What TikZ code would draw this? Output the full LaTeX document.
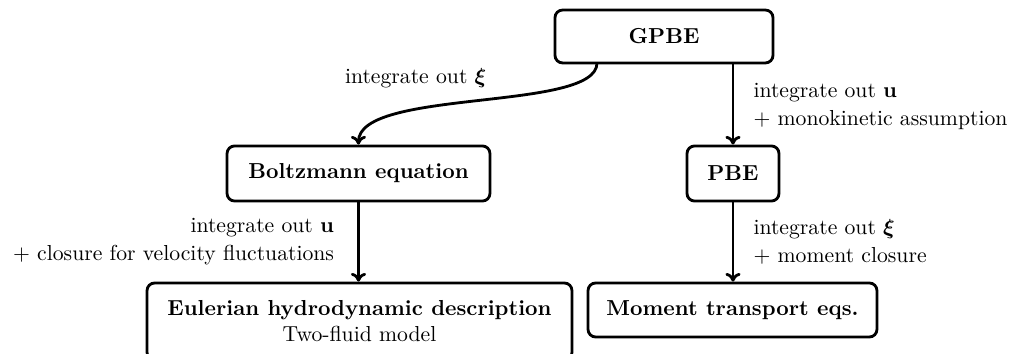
\documentclass[tikz,border=0pt]{standalone}
\usepackage{amsmath}
\usetikzlibrary{arrows.meta}
\begin{document}
\begin{tikzpicture}[x=0.461pt,y=-0.461pt,
  box/.style={draw,line width=1.3pt,rounded corners=3.5pt,inner sep=0pt,align=center,font=\bfseries},
  conn/.style={line width=1.3pt,-{To[length=4pt,width=7pt]}},
  lbl/.style={inner sep=3.33pt,font=\normalsize,execute at begin node=\setlength{\baselineskip}{12.9pt}}]
\useasboundingbox (0,0) rectangle (1013,354);
\node[box,minimum width=100.5pt,minimum height=24.4pt] (gpbe) at (664,36.5) {GPBE};
\node[box,minimum width=121.2pt,minimum height=25.4pt] (boltz) at (358.5,173.5) {Boltzmann equation};
\node[box,minimum width=42.4pt,minimum height=25.4pt] (pbe) at (733,173.5) {PBE};
\node[box,minimum width=195.9pt,minimum height=35.5pt] (euler) at (359.5,321.5) {Eulerian hydrodynamic description\\[0pt]\mdseries Two-fluid model};
\node[box,minimum width=133.2pt,minimum height=24.9pt] (moment) at (732.5,310) {Moment transport eqs.};
\coordinate (gs) at (597,63);
\draw[conn] (gs) .. controls (597,112) and (358,88) .. (boltz.north);
\node[lbl,anchor=east] (l1) at (494,78) {integrate out $\boldsymbol{\xi}$};
\draw[conn] (gpbe.south -| pbe.north) -- (pbe.north)
  node[lbl,pos=0.52,anchor=west,xshift=5.5pt,align=left] (l2) {integrate out $\mathbf{u}$\\+ monokinetic assumption};
\draw[conn] (boltz.south) -- (euler.north -| boltz.south)
  node[lbl,midway,anchor=east,xshift=-7.3pt,align=right] (l3) {integrate out $\mathbf{u}$\\+ closure for velocity fluctuations};
\draw[conn] (pbe.south) -- (moment.north -| pbe.south)
  node[lbl,midway,anchor=west,xshift=5.5pt,align=left] (l4) {integrate out $\boldsymbol{\xi}$\\+ moment closure};
\end{tikzpicture}
\end{document}
